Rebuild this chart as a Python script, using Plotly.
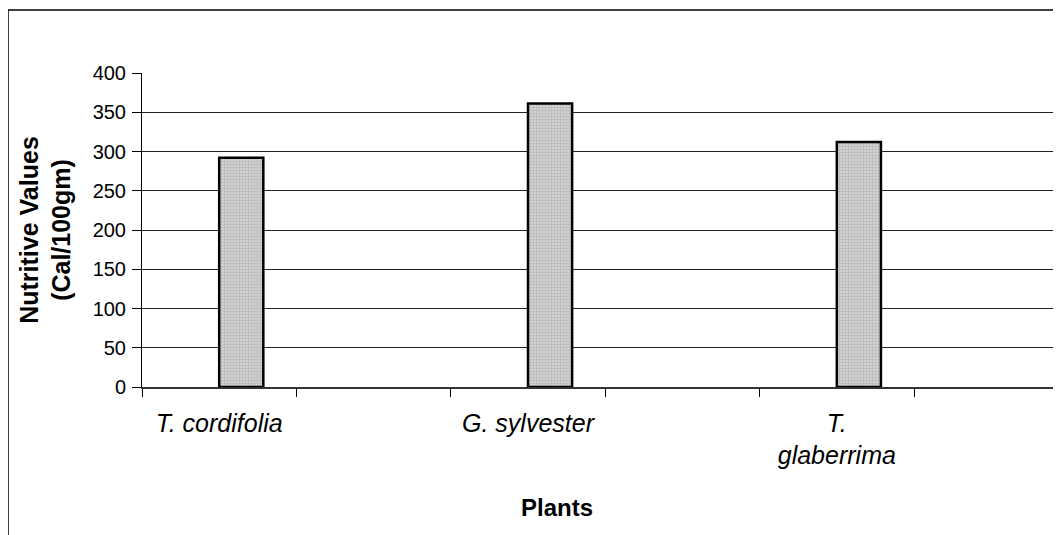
import plotly.graph_objects as go

# Data
plants = ["T. cordifolia", "G. sylvester", "T.<br>glaberrima"]
nutritive_values = [292, 361, 312]
# category slots on the x axis (plants separated by empty slots)
slot_order = ["T. cordifolia", " ", "G. sylvester", "  ", "T.<br>glaberrima", "   "]
y_ticks = [0, 50, 100, 150, 200, 250, 300, 350, 400]

FONT = "Arial, Liberation Sans, sans-serif"

# page body has an 8px margin; figure coordinates are offset accordingly
W, H = 1053, 527
ML, MT, MB = 134, 65, 148
PW = W - ML
PH = H - MT - MB

fig = go.Figure()
fig.add_trace(go.Bar(
    x=plants,
    y=nutritive_values,
    offset=0,
    width=1 / 3.5,
    marker=dict(
        color="#c4c4c4",
        line=dict(color="black", width=2.5),
        pattern=dict(shape=".", fgcolor="#9a9a9a", bgcolor="#d8d8d8", size=3, solidity=0.5),
    ),
    showlegend=False,
))

fig.update_layout(
    width=W,
    height=H,
    margin=dict(l=ML, r=0, t=MT, b=MB),
    paper_bgcolor="white",
    plot_bgcolor="white",
    font=dict(family=FONT, color="black"),
    xaxis=dict(
        type="category",
        categoryorder="array",
        categoryarray=slot_order,
        range=[-0.5, 5.452],
        tickson="boundaries",
        ticks="outside",
        ticklen=8,
        tickcolor="black",
        tickwidth=1,
        showline=True,
        linecolor="#333333",
        linewidth=1.5,
        showgrid=False,
        tickfont=dict(family=FONT, size=25, style="italic", color="black"),
        ticklabelstandoff=13,
    ),
    yaxis=dict(
        range=[0, 400],
        tickvals=y_ticks,
        ticks="outside",
        ticklen=9,
        tickcolor="black",
        showline=True,
        linecolor="black",
        linewidth=1,
        showgrid=True,
        gridcolor="#222222",
        gridwidth=1,
        zeroline=False,
        tickfont=dict(family=FONT, size=20, color="black"),
        ticklabelstandoff=2,
        title=dict(
            text="Nutritive Values<br>(Cal/100gm)",
            font=dict(family=FONT, size=25, weight="bold", color="black"),
            standoff=14,
        ),
    ),
    annotations=[
        dict(
            text="<b>Plants</b>",
            xref="paper", yref="paper",
            x=(549 - ML) / PW, y=(379 - 499) / PH,
            xanchor="center", yanchor="middle",
            showarrow=False,
            font=dict(family=FONT, size=24, color="black"),
        )
    ],
    shapes=[
        dict(
            type="rect", xref="paper", yref="paper",
            x0=(0 - ML) / PW, x1=1.05,
            y0=(379 - 560) / PH, y1=(379 - 2) / PH,
            line=dict(color="black", width=1.5),
            fillcolor="rgba(0,0,0,0)",
            layer="below",
        )
    ],
)

fig.write_html("out.html")
